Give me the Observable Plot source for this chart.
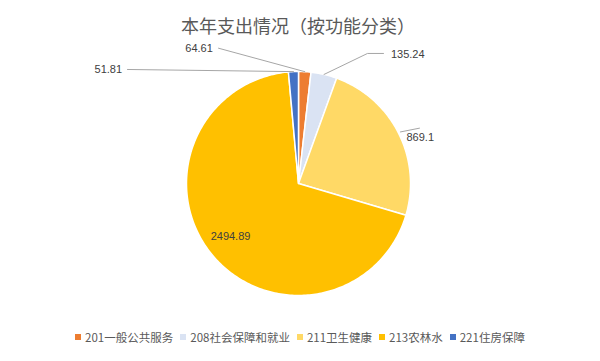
<!DOCTYPE html>
<html>
<head>
<meta charset="utf-8">
<script src="https://cdn.jsdelivr.net/npm/d3@7"></script>
<script src="https://cdn.jsdelivr.net/npm/@observablehq/plot@0.6"></script>
<style>
  html, body { margin: 0; padding: 0; background: #fff; }
  #wrap { position: relative; width: 600px; height: 361px; overflow: hidden; font-family: "Noto Sans CJK SC", sans-serif; }
  #title { position: absolute; left: 0; top: 14px; width: 596px; text-align: center; font-size: 18px; line-height: 22px; color: #595959; }
  #chart { position: absolute; left: 0; top: 40px; }
  #legend { position: absolute; left: 0; top: 327px; width: 600px; height: 20px; display: flex; justify-content: center; align-items: center; font-size: 11.5px; color: #595959; }
  .item { display: inline-flex; align-items: center; margin: 0 3.5px; white-space: nowrap; }
  .sw { width: 6px; height: 6px; margin-right: 4px; display: inline-block; }
</style>
</head>
<body>
<div id="wrap">
  <div id="title">本年支出情况（按功能分类）</div>
  <div id="chart"></div>
  <div id="legend"></div>
</div>
<script>
// ---- data ----
const categories = ["201一般公共服务", "208社会保障和就业", "211卫生健康", "213农林水", "221住房保障"];
const values = [64.61, 135.24, 869.1, 2494.89, 51.81];
const labelTexts = ["64.61", "135.24", "869.1", "2494.89", "51.81"];
const colors = ["#ED7D31", "#DAE3F3", "#FFD966", "#FFC000", "#4472C4"];

// ---- layout (pixels) ----
const W = 600, H = 286, cx = 298, cy = 143, R = 112;

// label placement in radius units relative to the pie centre (y up)
const labelPlacement = [
  {x: -0.765, y: 1.205, anchor: "end",    leader: [[-0.714, 1.208]]},
  {x: 0.825,  y: 1.152, anchor: "start",  leader: [[0.616, 1.161], [0.759, 1.161]]},
  {x: 0.964,  y: 0.411, anchor: "start",  leader: [[1.080, 0.494]], r0: 1.02},
  {x: -0.607, y: -0.473, anchor: "middle", leader: null},
  {x: -1.575, y: 1.015, anchor: "end",    leader: [[-1.527, 1.018]]}
];

const data = categories.map((name, i) => ({name, value: values[i]}));
const arcs = d3.pie().sort(null).value(d => d.value)(data);

// slice outlines
const slicePts = [];
arcs.forEach(a => {
  const name = a.data.name;
  slicePts.push({name, x: 0, y: 0});
  const n = Math.max(2, Math.ceil((a.endAngle - a.startAngle) / (Math.PI / 180)));
  for (let k = 0; k <= n; k++) {
    const t = a.startAngle + (a.endAngle - a.startAngle) * k / n;
    slicePts.push({name, x: Math.sin(t), y: Math.cos(t)});
  }
});

// labels & leader lines
const labels = arcs.map((a, i) => ({name: a.data.name, text: labelTexts[i], x: labelPlacement[i].x, y: labelPlacement[i].y, anchor: labelPlacement[i].anchor}));
const leaderPts = [];
arcs.forEach((a, i) => {
  const lp = labelPlacement[i];
  if (!lp.leader) return;
  const mid = (a.startAngle + a.endAngle) / 2;
  const r0 = lp.r0 ?? 1.0;
  leaderPts.push({name: a.data.name, x: r0 * Math.sin(mid), y: r0 * Math.cos(mid)});
  lp.leader.forEach(p => leaderPts.push({name: a.data.name, x: p[0], y: p[1]}));
});

const textOpts = {x: "x", y: "y", text: "text", fontSize: 11, fill: "#404040", fontFamily: "Liberation Sans, Arial, sans-serif"};

const chart = Plot.plot({
  width: W, height: H,
  marginLeft: 0, marginRight: 0, marginTop: 0, marginBottom: 0,
  x: {domain: [-cx / R, (W - cx) / R], axis: null},
  y: {domain: [-(H - cy) / R, cy / R], axis: null},
  color: {domain: categories, range: colors},
  style: {background: "transparent", overflow: "visible"},
  marks: [
    Plot.line(slicePts, {x: "x", y: "y", z: "name", fill: "name", stroke: "white", strokeWidth: 1.5, curve: "linear-closed"}),
    Plot.line(leaderPts, {x: "x", y: "y", z: "name", stroke: "#A6A6A6", strokeWidth: 1}),
    Plot.text(labels.filter(d => d.anchor === "end"), {...textOpts, textAnchor: "end"}),
    Plot.text(labels.filter(d => d.anchor === "start"), {...textOpts, textAnchor: "start"}),
    Plot.text(labels.filter(d => d.anchor === "middle"), {...textOpts, textAnchor: "middle"})
  ]
});
document.getElementById("chart").appendChild(chart);

// legend built from the chart's own colour scale
const colorScale = chart.scale("color");
const legendDiv = document.getElementById("legend");
colorScale.domain.forEach(name => {
  const item = document.createElement("span");
  item.className = "item";
  const sw = document.createElement("span");
  sw.className = "sw";
  sw.style.background = colorScale.apply(name);
  item.appendChild(sw);
  item.appendChild(document.createTextNode(name));
  legendDiv.appendChild(item);
});
</script>
</body>
</html>
